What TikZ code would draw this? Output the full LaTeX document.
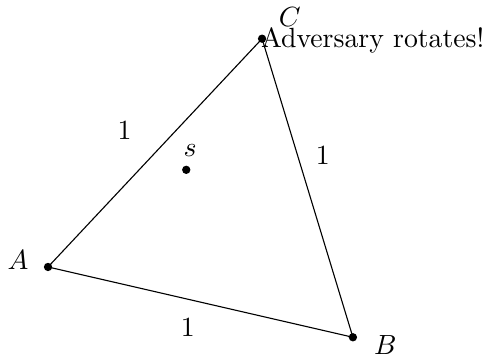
\documentclass[tikz,border=0pt]{standalone}
\begin{document}
\begin{tikzpicture}
\useasboundingbox (-0.608,-1.114) rectangle (5.545,3.380);
\coordinate (A) at (0,0);
\coordinate (B) at (3.86,-0.89);
\coordinate (C) at (2.71,2.89);
\coordinate (s) at (1.75,1.23);
\draw (A) -- (B) -- (C) -- cycle;
\foreach \p in {A,B,C,s} \fill (\p) circle (1.5pt);
\node (lA) at (-0.38,0.09) {$A$};
\node (lB) at (4.27,-0.99) {$B$};
\node (lC) at (3.06,3.17) {$C$};
\node (ls) at (1.80,1.48) {$s$};
\node[anchor=base west,inner sep=0pt] (adv) at (2.69,2.78) {Adversary rotates!};
\node (eAC) at (0.97,1.73) {1};
\node (eBC) at (3.48,1.42) {1};
\node (eAB) at (1.77,-0.76) {1};
\end{tikzpicture}
\end{document}
